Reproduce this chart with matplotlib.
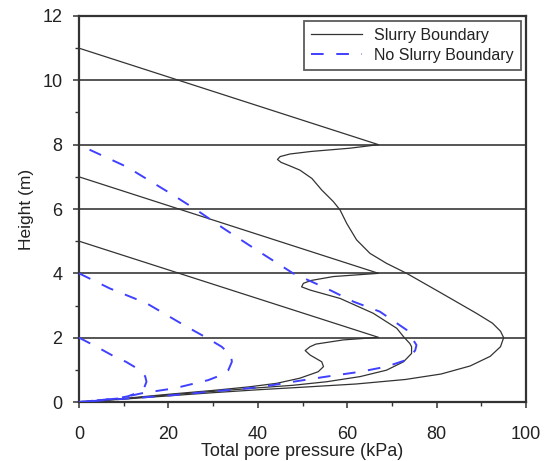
import matplotlib
matplotlib.use("Agg")
import matplotlib.pyplot as plt
from matplotlib.ticker import MultipleLocator

plt.rcParams['font.family'] = ['Liberation Sans', 'DejaVu Sans']

# ── Slurry boundary isochrones (solid) ───────────────────────────────────────
s1_x = [0, 67, 60.6, 52, 47.2, 45, 44.4, 45.2, 47, 49.4, 52.1, 54.3, 56.9, 58.4,
        59.9, 62.1, 65.1, 68.8, 73.3, 81, 89, 92.5, 94.3, 95, 94.3, 92, 87.5,
        81, 73, 62, 50, 40, 30, 20, 10, 0]
s1_y = [11, 8.0, 7.89, 7.79, 7.71, 7.63, 7.54, 7.45, 7.35, 7.21, 6.95, 6.59, 6.23,
        5.97, 5.55, 5.04, 4.62, 4.31, 4.0, 3.39, 2.75, 2.45, 2.2, 2.0, 1.72, 1.42,
        1.12, 0.87, 0.7, 0.56, 0.46, 0.38, 0.29, 0.19, 0.09, 0]

s2_x = [0, 67, 56.9, 52, 50.2, 49.8, 51.7, 58.4, 65.8, 71.1, 72.6, 74.0, 74.4,
        74.4, 72.6, 68.8, 62.9, 55.4, 47.9, 40, 30, 20, 10, 0]
s2_y = [7, 4.0, 3.9, 3.78, 3.69, 3.58, 3.48, 3.22, 2.76, 2.29, 2.03, 1.82, 1.72,
        1.51, 1.25, 0.99, 0.79, 0.63, 0.52, 0.44, 0.33, 0.22, 0.1, 0]

s3_x = [0, 67, 59.1, 53, 51.7, 50.6, 51.7, 54.3, 54.7, 53.5, 49.4, 44.2, 38, 30,
        20, 10, 0]
s3_y = [5, 2.01, 1.93, 1.8, 1.72, 1.6, 1.46, 1.25, 1.10, 0.94, 0.74, 0.58, 0.47,
        0.36, 0.24, 0.11, 0]

# ── No slurry boundary isochrones (dashed) ───────────────────────────────────
d1_x = [0, 3.5, 7.3, 10.5, 13.3, 14.8, 15.1, 14.6, 13.3, 11, 8.5, 4, 0]
d1_y = [2, 1.75, 1.46, 1.25, 1.02, 0.8, 0.63, 0.45, 0.3, 0.18, 0.11, 0.05, 0]

d2_x = [0, 6.9, 15.1, 24.1, 28.5, 31.9, 34, 34.2, 33.4, 31.5, 28.9, 21.5, 14,
        8.8, 0]
d2_y = [4, 3.53, 3.07, 2.34, 2.0, 1.72, 1.45, 1.25, 0.99, 0.82, 0.68, 0.43, 0.27,
        0.11, 0]

d3_x = [0, 2.1, 10.7, 20.4, 26.3, 32.3, 40, 47.9, 55.4, 61.4, 67.3, 73.3, 75.5,
        75.2, 73.3, 68.8, 62.9, 55.4, 47.9, 40.5, 30, 20, 10, 0]
d3_y = [8, 7.86, 7.31, 6.49, 5.97, 5.40, 4.7, 4.0, 3.53, 3.12, 2.81, 2.24, 1.77,
        1.6, 1.31, 1.10, 0.94, 0.79, 0.63, 0.46, 0.33, 0.2, 0.1, 0]

solid_curves = [(s1_x, s1_y), (s2_x, s2_y), (s3_x, s3_y)]
dashed_curves = [(d1_x, d1_y), (d2_x, d2_y), (d3_x, d3_y)]

grid_heights = [2, 4, 6, 8, 10]

ink = "#333333"
blue = "#4040ff"

fig = plt.figure(figsize=(5.45, 4.61), dpi=100)
ax = fig.add_axes([79 / 545, 59 / 461, 447 / 545, 386 / 461])

for h in grid_heights:
    ax.axhline(h, color="#555555", linewidth=1.4, zorder=1)

for i, (xs, ys) in enumerate(solid_curves):
    ax.plot(xs, ys, color=ink, linewidth=0.9, zorder=2,
            label="Slurry Boundary" if i == 0 else None)

for i, (xs, ys) in enumerate(dashed_curves):
    offset = 7 if i == 2 else 0
    ax.plot(xs, ys, color=blue, linewidth=1.4, zorder=3,
            linestyle=(offset, (6.5, 6.5)),
            label="No Slurry Boundary" if i == 0 else None)

ax.set_xlim(0, 100)
ax.set_ylim(0, 12)
ax.xaxis.set_major_locator(MultipleLocator(20))
ax.xaxis.set_minor_locator(MultipleLocator(10))
ax.yaxis.set_major_locator(MultipleLocator(2))
ax.yaxis.set_minor_locator(MultipleLocator(1))

ax.tick_params(which="major", direction="out", length=4, width=1.1, color=ink,
               labelsize=13, labelcolor="#222222")
ax.tick_params(which="minor", direction="out", length=3, width=1.0, color=ink)
ax.tick_params(axis="x", which="major", pad=13)
ax.tick_params(axis="y", which="major", pad=8)

for sp in ax.spines.values():
    sp.set_linewidth(1.6)
    sp.set_color(ink)

ax.set_xlabel("Total pore pressure (kPa)", fontsize=13, color="#222222", labelpad=0)
ax.set_ylabel("Height (m)", fontsize=12.5, color="#222222", labelpad=6)

leg = ax.legend(loc="upper right", fontsize=11.5, frameon=True, fancybox=False,
                handlelength=3.2, handletextpad=0.75, borderpad=0.45,
                labelspacing=0.3, borderaxespad=0.3)
leg.get_frame().set_edgecolor(ink)
leg.get_frame().set_linewidth(1.3)
for t in leg.get_texts():
    t.set_color("#222222")

fig.savefig("out.png", dpi=100)
